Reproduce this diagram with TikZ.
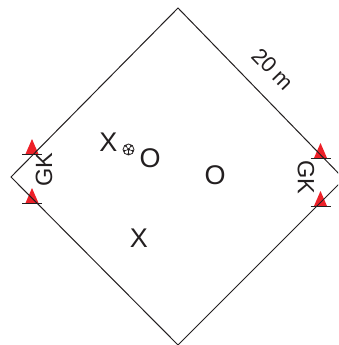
\documentclass[tikz,border=0pt]{standalone}
\usepackage{fontspec}
\setmainfont{Liberation Sans}
\definecolor{goalred}{RGB}{237,32,40}
\definecolor{ink}{RGB}{35,31,32}
\tikzset{
  x=1pt,y=-1pt,
  big/.style={inner sep=0pt,text=ink,font=\fontsize{27}{27}\selectfont},
  mid/.style={inner sep=0pt,text=ink,font=\fontsize{23.5}{24}\selectfont},
  small/.style={inner sep=0pt,text=ink,font=\fontsize{22}{22}\selectfont},
  field/.style={draw=ink,line width=1pt,line join=miter},
  cone/.style={fill=goalred,draw=none},
  base/.style={draw=ink,line width=0.9pt},
}
\newcommand{\conemark}[2]{%
  \fill[cone] (#1-6.5,#2+15) -- (#1,#2) -- (#1+6.5,#2+15) -- cycle;
  \draw[base] (#1-10,#2+15) -- (#1+10,#2+15);
}
\begin{document}
\begin{tikzpicture}
\useasboundingbox (0,0) rectangle (338,345);
\clip (0,0) rectangle (338,345);
\conemark{32}{139}
\conemark{32}{188}
\conemark{320.5}{143}
\conemark{320.5}{191}
\coordinate (t) at (178,8);
\coordinate (r) at (344,179);
\coordinate (b) at (178,345);
\coordinate (l) at (11,177);
\draw[field] (t) -- (r) -- (b) -- (l) -- cycle;
\node[big] (x1) at (108.5,142.5) {X};
\node[big] (o1) at (150,158.5) {O};
\node[big] (o2) at (215,175) {O};
\node[big] (x2) at (139,238) {X};
\node[mid,rotate=90] (gk1) at (44,170) {GK};
\node[mid,rotate=-90] (gk2) at (306,177) {GK};
\node[small,rotate=-46] (len) at (273,69) {20\kern-1pt\ m};
% ball
\node[circle,draw=ink,line width=0.8pt,minimum size=11pt,inner sep=0pt] (ball) at (128.5,149.5) {};
\fill[ink] (128.5,149.5) circle (1.5);
\foreach \a in {90,162,234,306,18}{
  \draw[ink,line width=0.6pt] (128.5,149.5) -- ++(\a:5);
  \fill[ink] (128.5,149.5) ++(\a:4.3) circle (1.1);
}
\end{tikzpicture}
\end{document}
